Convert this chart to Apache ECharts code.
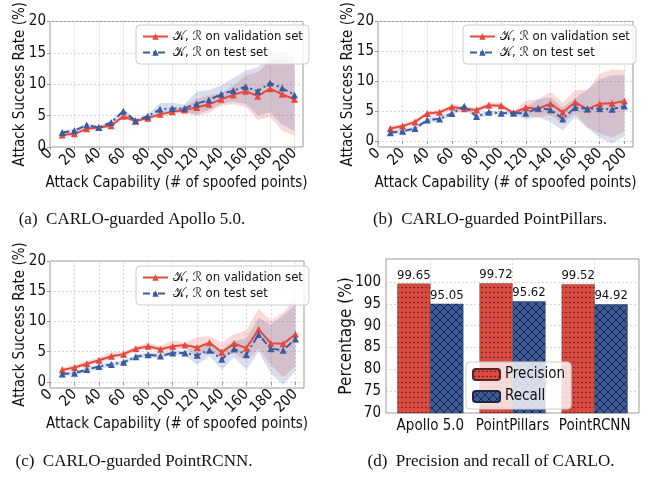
<!DOCTYPE html>
<html><head><meta charset="utf-8">
<script src="https://cdn.jsdelivr.net/npm/echarts@6/dist/echarts.min.js"></script>
<style>html,body{margin:0;padding:0;background:#fff}#c{width:658px;height:480px}</style>
</head><body><div id="c"></div>
<script>
// ---------- data ----------
const xVals = [10,20,30,40,50,60,70,80,90,100,110,120,130,140,150,160,170,180,190,200];
const xTicks = [0,20,40,60,80,100,120,140,160,180,200];
const yTicksLine = [0,5,10,15,20];

// (a) Apollo 5.0
const aValMean = [1.9,2.1,2.9,3.1,3.4,4.9,4.1,4.6,5.2,5.6,5.9,6.3,6.8,7.6,8.3,8.9,8.1,9.3,8.4,7.6];
const aValLow  = [1.6,1.8,2.6,2.8,3.1,4.6,3.9,4.4,4.8,5.2,5.4,4.9,5.4,6.6,6.8,6.4,4.3,4.8,2.6,1.8];
const aValHigh = [2.2,2.4,3.2,3.4,3.7,5.2,4.3,4.8,5.6,6.0,6.4,7.7,8.2,8.6,9.8,11.4,11.9,13.8,14.2,13.4];
const aTestMean = [2.3,2.6,3.5,3.1,3.9,5.7,4.2,4.9,6.0,6.15,6.15,6.9,7.5,8.4,9.0,9.6,8.9,10.2,9.4,8.3];
const aTestLow  = [2.0,2.3,3.2,2.8,3.6,5.3,4.0,4.6,5.2,5.4,5.6,5.2,5.9,6.8,7.2,6.9,5.0,5.5,3.5,2.6];
const aTestHigh = [2.6,2.9,3.8,3.4,4.2,6.1,4.4,5.2,7.0,7.0,6.8,8.8,9.1,9.8,11.0,12.2,12.7,14.7,15.2,14.3];

// (b) PointPillars
const bValMean = [2.1,2.5,3.2,4.6,4.8,5.7,5.4,5.2,6.0,5.9,4.7,5.6,5.4,6.25,4.8,6.5,5.3,6.25,6.3,6.7];
const bValLow  = [1.7,2.1,2.8,4.2,4.4,5.3,5.0,4.8,5.6,5.5,4.4,4.4,3.9,4.3,3.0,4.6,2.3,1.3,0.6,1.6];
const bValHigh = [2.5,2.9,3.6,5.0,5.2,6.1,5.8,5.6,6.5,6.3,5.0,6.8,7.0,8.2,6.5,8.5,8.6,11.2,12.0,11.8];
const bTestMean = [1.4,1.65,2.1,3.5,3.7,4.6,5.8,4.1,4.8,4.65,4.7,4.65,5.5,5.25,3.7,5.6,5.4,5.4,5.3,5.85];
const bTestLow  = [1.0,1.3,1.7,3.1,3.3,4.2,5.4,3.7,4.4,4.3,4.4,3.6,4.0,3.2,1.8,4.0,2.2,0.5,-0.4,0.8];
const bTestHigh = [1.8,2.0,2.5,3.9,4.1,5.0,6.2,4.5,5.2,5.0,5.0,5.7,7.0,7.3,5.6,7.2,8.6,10.3,11.0,11.0];

// (c) PointRCNN
const cValMean = [2.0,2.4,3.0,3.6,4.25,4.6,5.5,5.9,5.4,5.9,6.1,5.7,6.5,4.9,6.35,5.6,8.7,6.4,6.3,7.9];
const cValLow  = [1.6,2.0,2.6,3.2,3.8,4.2,5.1,5.4,5.0,5.2,5.6,4.3,5.3,3.9,4.8,3.5,5.5,2.8,0.8,2.6];
const cValHigh = [2.4,2.8,3.5,4.1,4.9,5.0,5.9,6.5,5.9,6.9,6.5,7.4,7.6,6.5,7.9,8.5,12.1,10.2,11.5,13.8];
const cTestMean = [1.3,1.45,2.05,2.55,2.9,3.25,4.15,4.5,4.3,4.8,4.8,4.4,5.25,3.75,5.45,4.55,7.85,5.5,5.25,7.1];
const cTestLow  = [1.0,1.1,1.7,2.2,2.5,2.9,3.8,4.1,3.9,4.4,4.4,2.8,4.3,2.0,4.1,2.0,5.0,1.4,-0.5,1.8];
const cTestHigh = [1.6,1.8,2.4,2.9,3.3,3.6,4.5,4.9,4.7,5.2,5.2,5.9,6.2,5.4,6.8,7.2,10.6,9.5,11.0,12.8];

// (d) precision / recall
const models = ['Apollo 5.0','PointPillars','PointRCNN'];
const precision = [99.65,99.72,99.52];
const recall = [95.05,95.62,94.92];
const yTicksBar = [70,75,80,85,90,95,100];

const NAME_VAL = '\u{1D4A6}, \u211B on validation set';
const NAME_TEST = '\u{1D4A6}, \u211B on test set';
const captions = ['(a)  CARLO-guarded Apollo 5.0.','(b)  CARLO-guarded PointPillars.','(c)  CARLO-guarded PointRCNN.','(d)  Precision and recall of CARLO.'];

// ---------- styles ----------
const FONT = "'DejaVu Sans Condensed','DejaVu Sans',sans-serif";
const RED = '#e5483d', BLUE = '#3a5ba0';
const RED_BAND = 'rgba(229,72,61,0.2)', BLUE_BAND = 'rgba(58,91,160,0.2)';
const GRIDC = '#999';
const splitStyle = {show:true, lineStyle:{color:'#cfcfcf', width:0.8, type:[2,2]}};

function pattern(bg, draw, w, h) {
  const c = document.createElement('canvas'); c.width = w; c.height = h;
  const g = c.getContext('2d'); g.fillStyle = bg; g.fillRect(0,0,w,h); draw(g); return c;
}
const dotPat = pattern('#dc4b41', g => { g.fillStyle='#3a1410'; g.beginPath(); g.arc(2,2.5,0.75,0,Math.PI*2); g.fill(); }, 4, 5);
const crossPat = pattern('#3d5a9a', g => { g.strokeStyle='#17223d'; g.lineWidth=0.9; g.beginPath(); g.moveTo(0,0); g.lineTo(8,8); g.moveTo(8,0); g.lineTo(0,8); g.stroke(); }, 8, 8);

const grids = [
  {left:50, top:19, width:253, height:128},
  {left:378, top:19, width:255, height:128},
  {left:50, top:261, width:254, height:127},
  {left:386, top:259, width:253, height:154}
].map(g => Object.assign({show:true, borderColor:GRIDC, borderWidth:1, backgroundColor:'transparent'}, g));

function lineX(i) {
  return {type:'value', gridIndex:i, min:0, max:207, interval:20,
    name:'Attack Capability (# of spoofed points)', nameLocation:'middle', nameGap:29, nameMoveOverlap:false,
    nameTextStyle:{fontFamily:FONT, fontSize:15, color:'#111'},
    axisLine:{show:false},
    axisTick:{show:true, length:3, lineStyle:{color:GRIDC}, customValues:xTicks},
    axisLabel:{customValues:xTicks, rotate:45, fontFamily:FONT, fontSize:15, color:'#111', margin:4},
    splitLine:splitStyle};
}
function lineY(i, min) {
  return {type:'value', gridIndex:i, min:min, max:20,
    name:'Attack Success Rate (%)', nameLocation:'middle', nameGap:22, nameMoveOverlap:false,
    nameTextStyle:{fontFamily:FONT, fontSize:15, color:'#111'},
    axisLine:{show:false},
    axisTick:{show:true, length:3, lineStyle:{color:GRIDC}, customValues:yTicksLine},
    axisLabel:{customValues:yTicksLine, fontFamily:FONT, fontSize:15, color:'#111', margin:4},
    splitLine:splitStyle};
}
function band(i, lo, hi, color) {
  return {type:'custom', xAxisIndex:i, yAxisIndex:i, silent:true, z:1,
    data: xVals.map((x,k)=>[x, lo[k], hi[k]]), encode:{x:0, y:[1,2]},
    renderItem(params, api) {
      if (params.dataIndexInside !== 0) return null;
      const n = params.dataInsideLength, top = [], bot = [];
      for (let j=0;j<n;j++) {
        top.push(api.coord([api.value(0,j), api.value(2,j)]));
        bot.push(api.coord([api.value(0,j), api.value(1,j)]));
      }
      return {type:'polygon', shape:{points: top.concat(bot.reverse())}, style:{fill:color}};
    }};
}
function line(i, name, vals, color, dash) {
  return {type:'line', name, xAxisIndex:i, yAxisIndex:i, z:3,
    data: xVals.map((x,k)=>[x, vals[k]]), symbol:'triangle', symbolSize:7, showSymbol:true,
    lineStyle:{color, width:2, type: dash ? [7,3,2,3] : 'solid'}, itemStyle:{color}, emphasis:{disabled:true}};
}
function lineLegend(left, top) {
  return {left, top, orient:'vertical', data:[NAME_VAL, NAME_TEST], itemWidth:25, itemHeight:8, itemGap:3,
    textStyle:{fontFamily:FONT, fontSize:13, color:'#111'}, backgroundColor:'rgba(255,255,255,0.8)',
    borderColor:'#cccccc', borderWidth:1, borderRadius:4, padding:[5,6,5,6], selectedMode:false};
}

const panels = [
  [aValMean,aValLow,aValHigh,aTestMean,aTestLow,aTestHigh],
  [bValMean,bValLow,bValHigh,bTestMean,bTestLow,bTestHigh],
  [cValMean,cValLow,cValHigh,cTestMean,cTestLow,cTestHigh]
];
const series = [];
panels.forEach((p, i) => {
  series.push(band(i, p[1], p[2], RED_BAND));
  series.push(band(i, p[4], p[5], BLUE_BAND));
  series.push(line(i, NAME_VAL, p[0], RED, false));
  series.push(line(i, NAME_TEST, p[3], BLUE, true));
});
const barLabel = {show:true, position:'top', distance:2, fontFamily:FONT, fontSize:13, color:'#111', formatter: p => p.value[1].toFixed(2)};
series.push({type:'bar', name:'Precision', xAxisIndex:3, yAxisIndex:3, barWidth:33, barGap:'0%',
  data: precision.map((v,k)=>[k,v]), itemStyle:{color:{image:dotPat, repeat:'repeat'}, borderColor:'#5a2420', borderWidth:0.4}, label:barLabel});
series.push({type:'bar', name:'Recall', xAxisIndex:3, yAxisIndex:3, barWidth:33, barGap:'0%',
  data: recall.map((v,k)=>[k,v]), itemStyle:{color:{image:crossPat, repeat:'repeat'}, borderColor:'#1b2645', borderWidth:0.4}, label:barLabel});

const option = {
  animation:false,
  backgroundColor:'#fff',
  grid: grids,
  xAxis: [lineX(0), lineX(1), lineX(2),
    {type:'value', gridIndex:3, min:-0.54, max:2.54,
      axisLine:{show:false},
      axisTick:{show:false, customValues:[0,1,2]},
      axisLabel:{customValues:[0,1,2], formatter:v=>models[Math.round(v)], fontFamily:FONT, fontSize:15, color:'#111', margin:6},
      splitLine:splitStyle}],
  yAxis: [lineY(0,0), lineY(1,-1), lineY(2,-1),
    {type:'value', gridIndex:3, min:70, max:105.3,
      name:'Percentage (%)', nameLocation:'middle', nameGap:31, nameMoveOverlap:false,
      nameTextStyle:{fontFamily:FONT, fontSize:17, color:'#111'},
      axisLine:{show:false},
      axisTick:{show:false, customValues:yTicksBar},
      axisLabel:{customValues:yTicksBar, fontFamily:FONT, fontSize:15, color:'#111', margin:5},
      splitLine:splitStyle}],
  legend: [lineLegend(136,25), lineLegend(463,25), lineLegend(136,266),
    {left:466, top:362, orient:'vertical', data:['Precision','Recall'], itemWidth:27, itemHeight:11, itemGap:7,
      textStyle:{fontFamily:FONT, fontSize:15, color:'#111'}, backgroundColor:'rgba(255,255,255,0.8)',
      borderColor:'#cccccc', borderWidth:1, borderRadius:4, padding:[5,6,5,6], selectedMode:false}],
  graphic: [
    [132,220],[490,220],[134,462],[491,462]
  ].map((pos,k)=>({type:'text', x:pos[0], y:pos[1], style:{text:captions[k], font:'17px "Liberation Serif", serif', fill:'#111', textAlign:'center', textVerticalAlign:'middle', align:'center', verticalAlign:'middle'}})),
  series
};
const chart = echarts.init(document.getElementById('c'), null, {renderer:'canvas'});
chart.setOption(option);
</script></body></html>
